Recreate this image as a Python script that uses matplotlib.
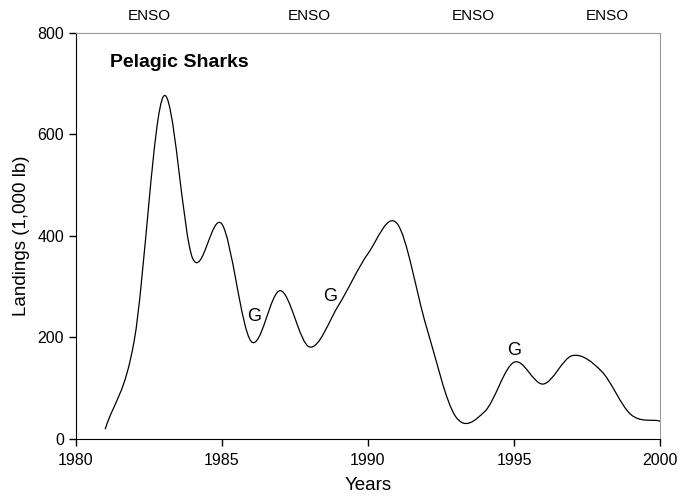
import matplotlib
matplotlib.use('Agg')
import matplotlib.pyplot as plt
import numpy as np
from matplotlib.path import Path
from matplotlib.patches import PathPatch

years = [1981, 1982, 1983, 1984, 1985, 1986, 1987, 1988, 1989, 1990,
         1991, 1992, 1993, 1994, 1995, 1996, 1997, 1998, 1999, 2000]
landings = [19, 195, 675, 355, 423, 192, 292, 181, 264, 365,
            424, 221, 44, 54, 151, 108, 164, 133, 48, 35]

enso_years = [1982.5, 1988.0, 1993.6, 1998.2]
g_marks = [(1986.1, 242), (1988.7, 280), (1995.0, 174)]


def smooth_path(x, y):
    # Catmull-Rom segments written as cubic Bezier pieces
    x = np.asarray(x, float)
    y = np.asarray(y, float)
    n = len(x)
    dx = np.gradient(x)
    dy = np.gradient(y)
    verts = [(x[0], y[0])]
    codes = [Path.MOVETO]
    for i in range(n - 1):
        c1 = (x[i] + dx[i] / 3, y[i] + dy[i] / 3)
        c2 = (x[i + 1] - dx[i + 1] / 3, y[i + 1] - dy[i + 1] / 3)
        verts += [c1, c2, (x[i + 1], y[i + 1])]
        codes += [Path.CURVE4] * 3
    return Path(verts, codes)


def main():
    plt.rcParams['font.family'] = ['Liberation Sans', 'DejaVu Sans']
    fig = plt.figure(figsize=(6.84, 4.97), dpi=100)
    ax = fig.add_axes([0.111, 0.117, 0.854, 0.817])

    ax.add_patch(PathPatch(smooth_path(years, landings), fill=False,
                           edgecolor='black', lw=0.9))

    ax.set_xlim(1980, 2000)
    ax.set_ylim(0, 800)
    ax.set_xticks([1980, 1985, 1990, 1995, 2000])
    ax.set_yticks([0, 200, 400, 600, 800])
    ax.tick_params(direction='out', length=5, width=1, labelsize=11.5,
                   top=False, right=False)
    ax.tick_params(axis='x', pad=5)
    for s in ['top', 'right']:
        ax.spines[s].set_color('#999999')
    for s in ['left', 'bottom']:
        ax.spines[s].set_color('black')

    ax.set_xlabel('Years', fontsize=13.5, labelpad=7)
    ax.set_ylabel('Landings (1,000 lb)', fontsize=13.5, labelpad=5)

    ax.text(1981.15, 741, 'Pelagic Sharks', fontsize=14, fontweight='bold',
            ha='left', va='center')
    for gx, gy in g_marks:
        ax.text(gx, gy, 'G', fontsize=13, ha='center', va='center')
    for ex in enso_years:
        ax.text(ex, 1.042, 'ENSO', fontsize=11, ha='center', va='center',
                transform=ax.get_xaxis_transform())

    fig.savefig('out.png', dpi=100)


if __name__ == '__main__':
    main()
